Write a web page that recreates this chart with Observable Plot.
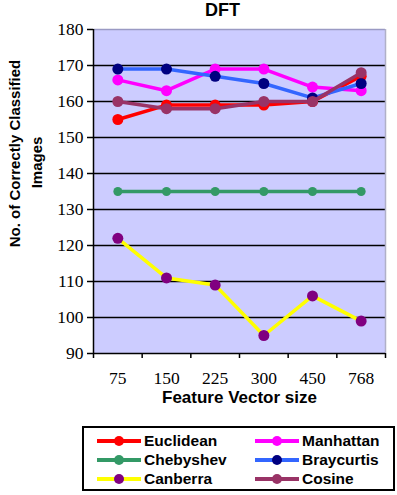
<!DOCTYPE html>
<html>
<head>
<meta charset="utf-8">
<script src="https://cdn.jsdelivr.net/npm/d3@7"></script>
<script src="https://cdn.jsdelivr.net/npm/@observablehq/plot@0.6"></script>
<style>
  body { margin: 0; background: #fff; }
  #wrap { position: relative; width: 397px; height: 495px; }
  #legend {
    position: absolute; left: 82px; top: 426px; width: 313px; height: 65px;
    border: 2px solid #000; box-sizing: border-box;
    font: bold 15.5px "Liberation Sans", Arial, sans-serif; color: #000;
  }
  .item { position: absolute; display: flex; align-items: center; height: 19px; }
  .item svg { margin-right: 2px; }
</style>
</head>
<body>
<div id="wrap"></div>
<script>
// Feature vector sizes on the x axis
const featureSizes = ["75", "150", "225", "300", "450", "768"];

// Correctly classified images per distance measure
const euclidean  = [155, 159, 159, 159, 160, 167];
const manhattan  = [166, 163, 169, 169, 164, 163];
const chebyshev  = [135, 135, 135, 135, 135, 135];
const braycurtis = [169, 169, 167, 165, 161, 165];
const canberra   = [122, 111, 109,  95, 106,  99];
const cosine     = [160, 158, 158, 160, 160, 168];

const seriesNames = ["Euclidean", "Manhattan", "Chebyshev", "Braycurtis", "Canberra", "Cosine"];
const seriesValues = [euclidean, manhattan, chebyshev, braycurtis, canberra, cosine];

const lineColors = {
  Euclidean: "#ff0000", Manhattan: "#ff00ff", Chebyshev: "#339966",
  Braycurtis: "#3366ff", Canberra: "#ffff00", Cosine: "#993366"
};
const dotColors = {
  Euclidean: "#ff0000", Manhattan: "#ff00ff", Chebyshev: "#339966",
  Braycurtis: "#000080", Canberra: "#800080", Cosine: "#993366"
};

const yTicks = d3.range(90, 181, 10);

// tidy rows: one per series and feature size
const rows = seriesNames.flatMap((name, s) =>
  seriesValues[s].map((value, i) => ({series: name, i, value}))
);

const sans = "'Liberation Sans', Arial, sans-serif";
const serif = "'Liberation Serif', 'Times New Roman', serif";

const seriesMarks = seriesNames.flatMap(name => {
  const data = rows.filter(d => d.series === name);
  return [
    Plot.line(data, {x: "i", y: "value", stroke: lineColors[name], strokeWidth: 3.5}),
    Plot.dot(data, {x: "i", y: "value", fill: dotColors[name], r: name === "Chebyshev" ? 4.5 : 5.5})
  ];
});

const labelStyle = {fontFamily: sans, fontWeight: "bold", textAnchor: "middle", lineAnchor: "middle"};

const chart = Plot.plot({
  width: 397,
  height: 420,
  marginLeft: 93,
  marginRight: 12,
  marginTop: 29,
  marginBottom: 67,
  style: {fontFamily: serif, fontSize: "17.5px", color: "#000", background: "#fff"},
  x: {type: "linear", domain: [-0.5, 5.5]},
  y: {domain: [90, 180]},
  marks: [
    Plot.frame({fill: "#ccccff"}),
    Plot.ruleY(d3.range(100, 180, 10), {stroke: "#000", strokeWidth: 1.5}),
    Plot.ruleY([180], {stroke: "#9a9ac4", strokeWidth: 1.5}),
    Plot.ruleX([5.5], {stroke: "#b0b0c8", strokeWidth: 1.5}),
    Plot.axisY({ticks: yTicks, tickSize: 6, tickPadding: 4, label: null, fontFamily: serif, fontSize: 17.5, strokeWidth: 1.5}),
    Plot.axisX({ticks: d3.range(0, 6), tickSize: 0, tickPadding: 18, tickFormat: i => featureSizes[i], label: null, fontFamily: serif, fontSize: 17.5}),
    Plot.axisX({ticks: d3.range(-0.5, 6, 1), tickSize: 5, tickFormat: () => "", label: null, strokeWidth: 1.5}),
    Plot.ruleX([-0.5], {stroke: "#000", strokeWidth: 1.5}),
    Plot.ruleY([90], {stroke: "#000", strokeWidth: 1.5}),
    ...seriesMarks,
    // chart title
    Plot.text(["DFT"], {...labelStyle, frameAnchor: "top", dx: -17, dy: -19.5, fontSize: 18}),
    // y-axis title, two rotated lines
    Plot.text(["No. of Correctly Classified"], {...labelStyle, frameAnchor: "left", rotate: -90, dx: -78, dy: -38, fontSize: 15}),
    Plot.text(["Images"], {...labelStyle, frameAnchor: "left", rotate: -90, dx: -56, dy: -29, fontSize: 15}),
    // x-axis title
    Plot.text(["Feature Vector size"], {...labelStyle, frameAnchor: "bottom", dy: 44, fontSize: 17})
  ]
});

const wrap = document.getElementById("wrap");
wrap.appendChild(chart);

// legend: line swatch with a marker, two columns
const legend = document.createElement("div");
legend.id = "legend";
seriesNames.forEach((name, k) => {
  const col = k % 2, row = Math.floor(k / 2);
  const item = document.createElement("div");
  item.className = "item";
  item.style.left = (col === 0 ? 12 : 170) + "px";
  item.style.top = (3 + row * 19) + "px";
  item.innerHTML =
    `<svg width="46" height="14"><line x1="1" x2="45" y1="7" y2="7" stroke="${lineColors[name]}" stroke-width="4"/>` +
    `<circle cx="23" cy="7" r="5" fill="${dotColors[name]}"/></svg><span>${name}</span>`;
  legend.appendChild(item);
});
wrap.appendChild(legend);
</script>
</body>
</html>
